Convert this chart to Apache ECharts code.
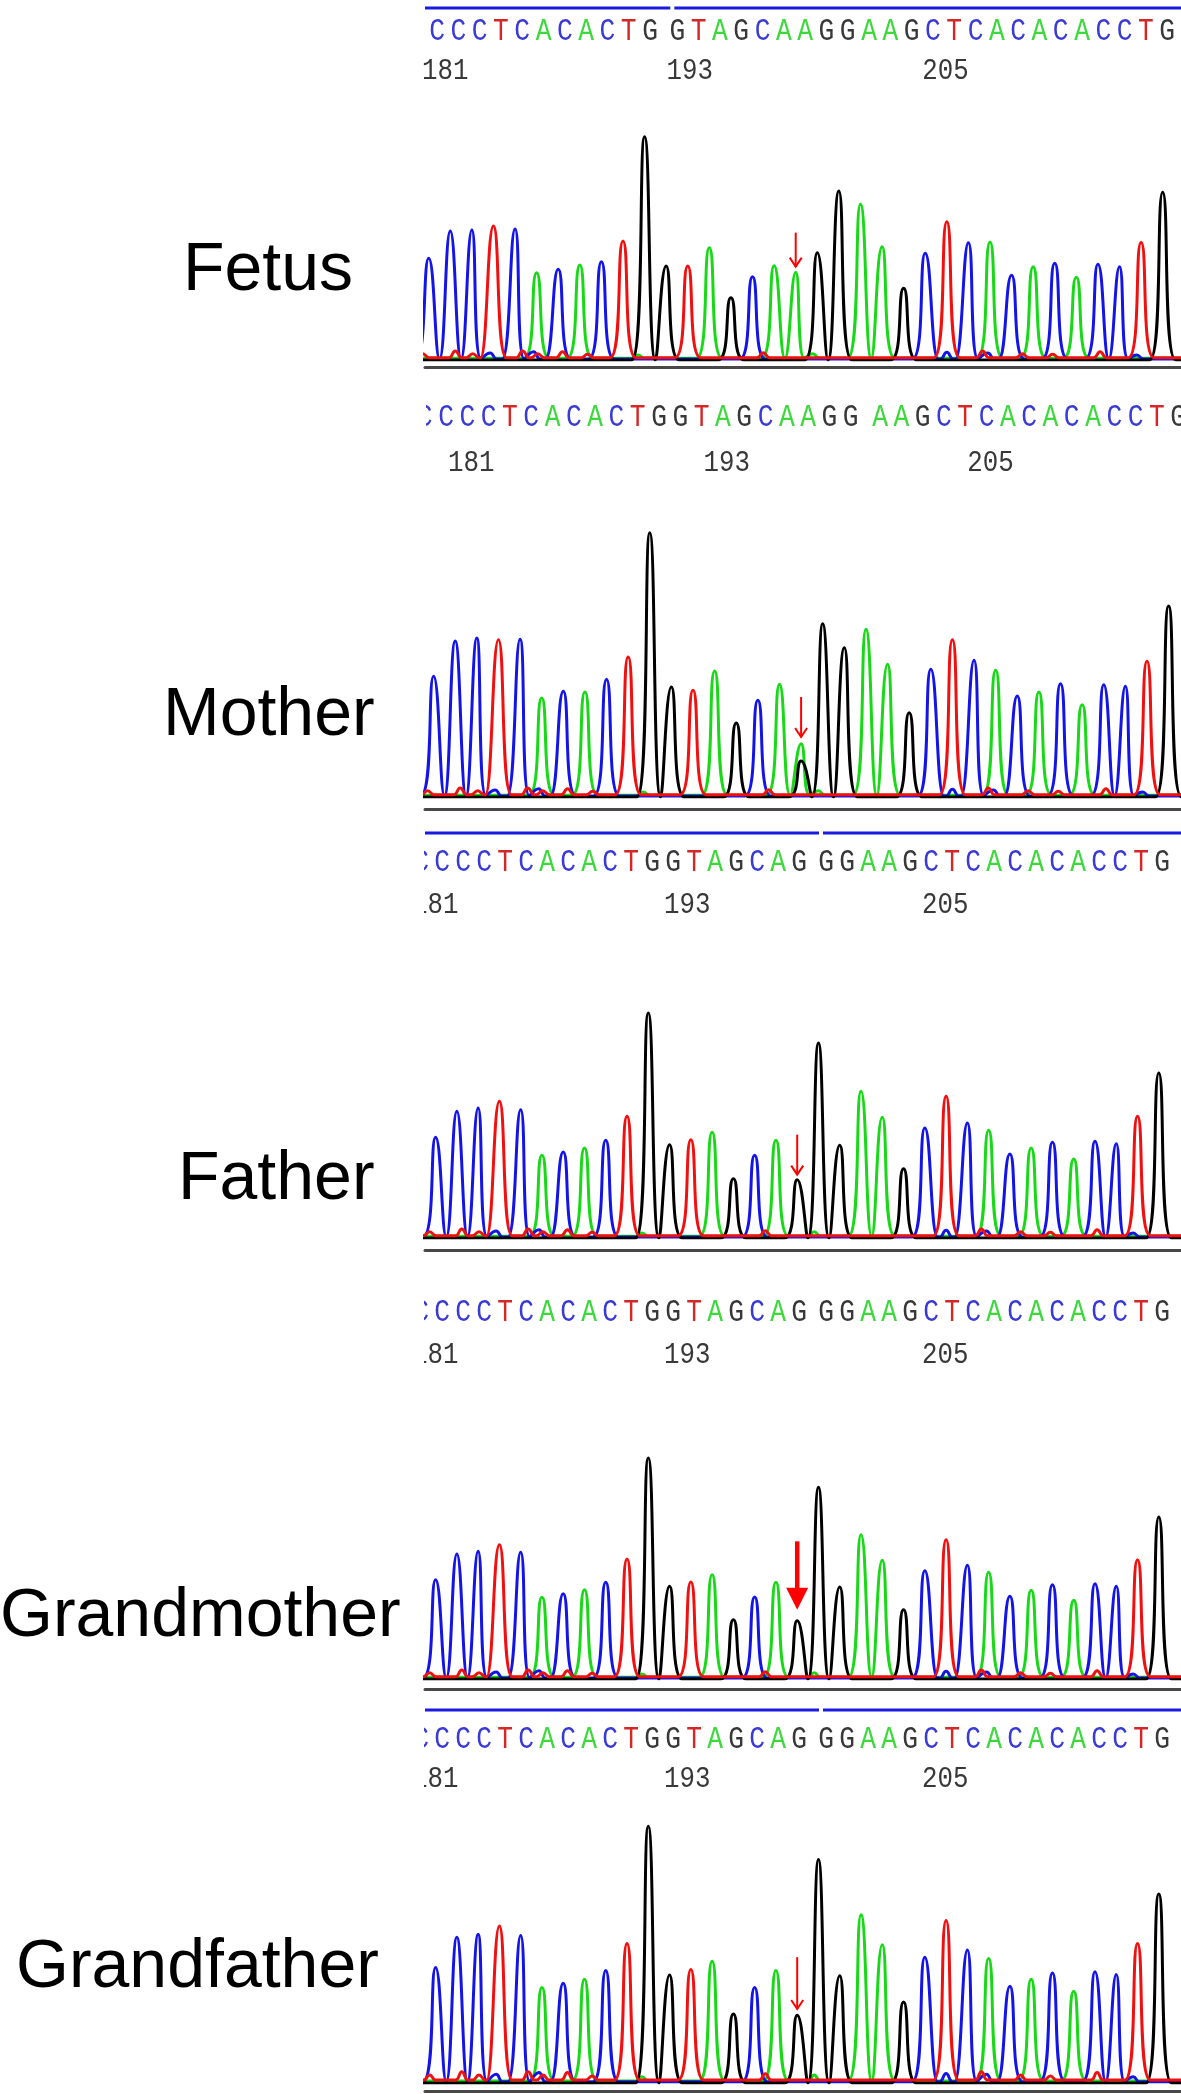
<!DOCTYPE html>
<html><head><meta charset="utf-8">
<script src="https://cdn.jsdelivr.net/npm/echarts@6/dist/echarts.min.js"></script>
<style>html,body{margin:0;padding:0;background:#fff}#c{width:1181px;height:2094px}</style>
</head><body><div id="c"></div>
<script>
// ---------------- DATA ----------------
const basePositions = [181,182,183,184,185,186,187,188,189,190,191,192,193,194,195,196,197,198,199,200,201,202,203,204,205,206,207,208,209,210,211,212,213,214,215];
const tickLabels = ['181','193','205'];

// called sequences shown above each trace
const seqRow1 = 'CCCTCACACTGGTAGCAAGGAAGCTCACACACCTG';
const seqRow2 = 'CCCTCACACTGGTAGCAAGGAAGCTCACACACCTG';
const seqRow3 = 'CCCTCACACTGGTAGCAGGGAAGCTCACACACCTG';
const seqRow4 = 'CCCTCACACTGGTAGCAGGGAAGCTCACACACCTG';
const seqRow5 = 'CCCTCACACTGGTAGCAGGGAAGCTCACACACCTG';
const leadChar = 'C'; // partly visible base 180

// peak calls and peak heights (signal units) per sample
const fetusCalls  = 'CCCTCACACTGGTAGCAAGGAAGCTCACACACCTG';
const fetusHeights = [305,387,390,402,393,262,272,285,295,357,670,282,282,337,187,250,283,263,322,507,467,340,215,320,415,352,354,254,280,290,248,287,280,353,503];
const motherCalls = 'CCCTCACACTGGTAGCAAGGAAGCTCACACACCTG';
const motherHeights = [362,468,477,472,473,297,317,315,353,420,793,330,320,378,222,290,338,160,520,448,503,398,253,383,472,410,380,303,315,340,277,337,332,407,573];
const motherSecondary = [[18,'G',108]];
const fatherCalls = 'CCCTCACACTGGTAGCAGGGAAGCTCACACACCTG';
const fatherHeights = [302,380,390,410,385,248,258,270,293,365,675,280,295,317,178,248,293,175,585,278,440,362,208,330,425,345,323,252,270,287,237,290,283,365,495];
const grandmotherCalls = 'CCCTCACACTGGTAGCAGGGAAGCTCACACACCTG';
const grandmotherHeights = [298,375,383,403,380,245,256,268,290,360,663,278,291,313,178,246,290,175,575,276,433,356,208,325,418,341,320,248,266,283,236,286,278,358,486];
const grandfatherCalls = 'CCCTCACACTGGTAGCAGGGAAGCTCACACACCTG';
const grandfatherHeights = [278,351,358,378,355,230,240,250,271,336,618,260,273,293,166,230,271,163,538,258,405,333,195,303,391,320,300,233,250,265,221,268,261,336,455];

// small background bumps near the baseline [position, height]
const minorT = [[0.72,12],[2.23,20],[3.04,12],[5.35,20],[6.05,12],[7.2,18],[8.36,10],[16.5,15],[26.66,20],[28.5,12],[29.9,10],[32.1,18]];
const minorC = [[3.85,18],[5.86,22],[25.0,20],[26.9,18],[33.8,12]];
const minorA = [[10.7,10],[18.8,14]];
const minorG = [];

// red arrows [position, tail, tip]
const fetusArrow = [18,382,280];
const motherArrow = [18,300,180];
const fatherArrow = [18,310,190];
const grandmotherArrow = [18,413,208];
const grandfatherArrow = [18,303,178];

// ---------------- LAYOUT / STYLE ----------------
const W = 1181;
const TRACE = {A:'#18d818', C:'#1414e8', G:'#000000', T:'#f01010'};
const LETTER = {A:'#3cd83c', C:'#3a3ad6', G:'#383838', T:'#d42828'};
const BASEOFF = {G:0, C:3, A:5, T:7};
const MINOR = {A:minorA, C:minorC, G:minorG, T:minorT};
const GH = 270;
const PEAK_HW = 0.6, MINOR_HW = 0.3;

const rows = [
  {seq:seqRow1, lead:'', letterY:27, numY:66, barY:3, x1:437, pitch:21.3, gapAfter:11, gapExtra:6, numOffset:-32, numMinX:422, clipLeft:415, barLeft:425, bar:true},
  {seq:seqRow2, lead:leadChar, letterY:418, numY:463, x1:446, pitch:21.3, gapAfter:20, gapExtra:8, numOffset:2, numMinX:0, clipLeft:426, bar:false},
  {seq:seqRow3, lead:leadChar, letterY:863, numY:905, barY:833, x1:442, pitch:21.0, gapAfter:18, gapExtra:6, numOffset:-30, numMinX:0, clipLeft:424, barLeft:425, bar:true},
  {seq:seqRow4, lead:leadChar, letterY:1313, numY:1355, x1:442, pitch:21.0, gapAfter:18, gapExtra:6, numOffset:-30, numMinX:0, clipLeft:424, bar:false},
  {seq:seqRow5, lead:leadChar, letterY:1740, numY:1779, barY:1710, x1:442, pitch:21.0, gapAfter:18, gapExtra:6, numOffset:-30, numMinX:0, clipLeft:424, barLeft:425, bar:true}
];

const panels = [
  {label:'Fetus', lx:183, ly:277, calls:fetusCalls, heights:fetusHeights, extra:[], arrow:fetusArrow, x1:428.7, x35:1162.7, base:360, line:367, ymax:810, thick:false},
  {label:'Mother', lx:163, ly:722, calls:motherCalls, heights:motherHeights, extra:motherSecondary, arrow:motherArrow, x1:433.6, x35:1168.6, base:797, line:809, ymax:810, thick:false},
  {label:'Father', lx:178, ly:1186, calls:fatherCalls, heights:fatherHeights, extra:[], arrow:fatherArrow, x1:435.6, x35:1158.8, base:1238, line:1250, ymax:810, thick:false},
  {label:'Grandmother', lx:0, ly:1623, calls:grandmotherCalls, heights:grandmotherHeights, extra:[], arrow:grandmotherArrow, x1:435.6, x35:1158.8, base:1679, line:1689, ymax:810, thick:true},
  {label:'Grandfather', lx:16, ly:1974, calls:grandfatherCalls, heights:grandfatherHeights, extra:[], arrow:grandfatherArrow, x1:435.6, x35:1158.8, base:2083, line:2091, ymax:650, thick:false}
];

const grids = [], xAxes = [], yAxes = [], series = [], graphics = [];
const MONO = '"Liberation Mono", "DejaVu Sans Mono", monospace';

// ---------- sequence rows ----------
rows.forEach((row) => {
  const top = row.letterY - 32;
  const height = row.numY - row.letterY + 56;
  const gi = grids.length;
  grids.push({left: row.clipLeft, width: W - row.clipLeft, top: top, height: height});
  const min = 1 - (row.x1 - row.clipLeft) / row.pitch;
  const max = min + (W - row.clipLeft) / row.pitch;
  xAxes.push({gridIndex: gi, type: 'value', min: min, max: max, show: false});
  yAxes.push({gridIndex: gi, type: 'value', min: 0, max: height, inverse: true, show: false});
  const u = i => i + (i > row.gapAfter ? row.gapExtra / row.pitch : 0);
  const items = [];
  if (row.lead) items.push({u: u(0), t: row.lead, kind: 'letter'});
  row.seq.split('').forEach((ch, k) => items.push({u: u(k + 1), t: ch, kind: 'letter'}));
  tickLabels.forEach(lab => {
    const idx = basePositions.indexOf(+lab) + 1;
    items.push({u: u(idx), t: lab, kind: 'num'});
  });
  series.push({
    type: 'custom', xAxisIndex: gi, yAxisIndex: gi, clip: true, silent: true,
    data: items.map(it => [it.u, 0]),
    renderItem: (params, api) => {
      const it = items[params.dataIndex];
      const p = api.coord([api.value(0), 0]);
      if (it.kind === 'letter') {
        return {type: 'text', x: p[0], y: p[1] + (row.letterY - top), scaleX: 0.82,
          style: {x: 0, y: 0, text: it.t, fill: LETTER[it.t], font: '32px ' + MONO,
          align: 'center', verticalAlign: 'middle'}};
      }
      const nx = Math.max(p[0] + row.numOffset, row.numMinX);
      return {type: 'text', x: nx, y: p[1] + (row.numY - top), scaleX: 0.86,
        style: {x: 0, y: 0, text: it.t, fill: '#383838', font: '30px ' + MONO,
        align: 'left', verticalAlign: 'middle'}};
    }
  });
  if (row.bar) {
    series.push({
      type: 'custom', xAxisIndex: gi, yAxisIndex: gi, clip: false, silent: true,
      data: [[u(row.gapAfter + 1), 0]],
      renderItem: (params, api) => {
        const p = api.coord([api.value(0), 0]);
        const split = p[0] - 7;
        const y = p[1] + (row.barY - top) - 1.5;
        return {type: 'group', children: [
          {type: 'rect', shape: {x: row.barLeft, y: y, width: split - row.barLeft, height: 3}, style: {fill: '#1a1ae0'}},
          {type: 'rect', shape: {x: split + 4, y: y, width: W - split - 4, height: 3}, style: {fill: '#1a1ae0'}}
        ]};
      }
    });
  }
});

// ---------- chromatograms ----------
function channelPoints(panel, ch, xmin, xmax) {
  const bl = BASEOFF[ch];
  const pk = [];
  panel.calls.split('').forEach((b, i) => { if (b === ch) pk.push({p: i + 1, h: panel.heights[i], w: PEAK_HW}); });
  panel.extra.forEach(e => { if (e[1] === ch) pk.push({p: e[0], h: e[2], w: PEAK_HW}); });
  MINOR[ch].forEach(m => pk.push({p: m[0], h: m[1] + bl, w: MINOR_HW}));
  pk.sort((a, b) => a.p - b.p);
  pk.forEach(k => { k.l = k.p - k.w; k.r = k.p + k.w; });
  for (let i = 1; i < pk.length; i++) {
    if (pk[i].l <= pk[i - 1].r) {
      const mid = (pk[i].p + pk[i - 1].p) / 2;
      pk[i].l = mid; pk[i - 1].r = mid; pk[i].shared = true;
    }
  }
  const pts = [[xmin - 1, bl]];
  pk.forEach((k, i) => {
    if (k.shared) {
      pts.push([k.l, bl]);
    } else {
      if (i > 0) pts.push([pk[i - 1].r, bl]);
      pts.push([k.l, bl], [k.l, bl]);
    }
    pts.push([k.p, k.h]);
    const nextShared = i + 1 < pk.length && pk[i + 1].shared;
    if (!nextShared) pts.push([k.r, bl]);
  });
  pts.push([xmax + 1, bl]);
  return pts;
}

panels.forEach((panel) => {
  const gi = grids.length;
  const left = 425;
  grids.push({left: left, width: W - left, top: panel.base - GH, height: GH});
  const pitch = (panel.x35 - panel.x1) / 34;
  const min = 1 - (panel.x1 - left) / pitch;
  const max = min + (W - left) / pitch;
  xAxes.push({gridIndex: gi, type: 'value', min: min, max: max, offset: panel.line - panel.base,
    axisLine: {show: true, onZero: false, lineStyle: {color: '#484848', width: 3}},
    axisTick: {show: false}, axisLabel: {show: false}, splitLine: {show: false}});
  yAxes.push({gridIndex: gi, type: 'value', min: 0, max: panel.ymax, show: false});
  ['A', 'C', 'G', 'T'].forEach(ch => {
    series.push({
      type: 'line', xAxisIndex: gi, yAxisIndex: gi, showSymbol: false, symbol: 'none',
      smooth: 0.5, clip: true, silent: true, animation: false,
      lineStyle: {color: TRACE[ch], width: 3, join: 'round'},
      data: channelPoints(panel, ch, min, max)
    });
  });
  const thick = panel.thick;
  series.push({
    type: 'custom', xAxisIndex: gi, yAxisIndex: gi, silent: true, clip: false,
    data: [panel.arrow],
    renderItem: (params, api) => {
      const a = api.coord([api.value(0), api.value(1)]);
      const b = api.coord([api.value(0), api.value(2)]);
      if (thick) {
        const hw = 11, hl = 22;
        return {type: 'group', children: [
          {type: 'line', shape: {x1: a[0], y1: a[1], x2: b[0], y2: b[1] - hl + 2}, style: {stroke: '#ff0000', lineWidth: 4.5}},
          {type: 'polygon', shape: {points: [[b[0] - hw, b[1] - hl], [b[0] + hw, b[1] - hl], [b[0], b[1]]]}, style: {fill: '#ff0000'}}
        ]};
      }
      const hw = 6, hl = 9;
      return {type: 'group', children: [
        {type: 'line', shape: {x1: a[0], y1: a[1], x2: b[0], y2: b[1]}, style: {stroke: '#ff0000', lineWidth: 2}},
        {type: 'polyline', shape: {points: [[b[0] - hw, b[1] - hl], [b[0], b[1]], [b[0] + hw, b[1] - hl]]}, style: {stroke: '#ff0000', lineWidth: 2, fill: null}}
      ]};
    }
  });
  graphics.push({type: 'text', left: panel.lx, top: panel.ly - 40, silent: true,
    style: {text: panel.label, fill: '#000', font: '68px "Liberation Sans", Arial, sans-serif'}});
});

const chart = echarts.init(document.getElementById('c'), null, {renderer: 'canvas', width: 1181, height: 2094});
chart.setOption({
  backgroundColor: '#ffffff',
  animation: false,
  grid: grids, xAxis: xAxes, yAxis: yAxes, series: series, graphic: graphics
});
</script></body></html>
